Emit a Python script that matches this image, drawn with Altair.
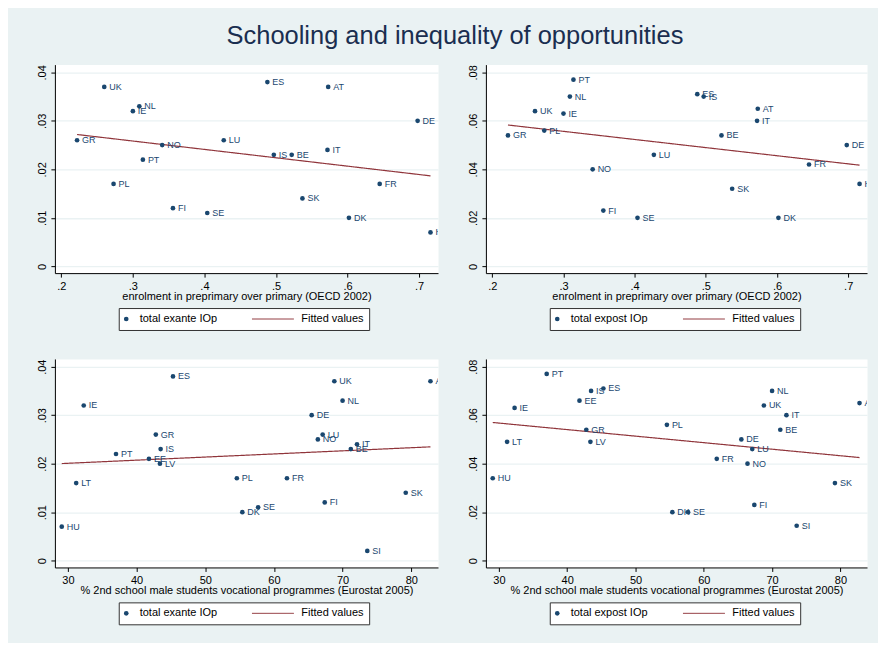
import altair as alt
import pandas as pd

countries = ["AT","BE","DE","DK","EE","ES","FI","FR","GR","HU","IE","IS",
             "IT","LT","LU","LV","NL","NO","PL","PT","SE","SI","SK","UK"]
preprimary = [0.573,0.522,0.698,0.602,None,0.488,0.356,0.645,0.222,0.716,0.300,0.497,
              0.572,None,0.427,None,0.309,0.341,0.273,0.314,0.404,None,0.537,0.260]
vocational = [82.8,71.2,65.5,55.4,41.8,45.3,67.4,61.9,42.8,29.1,32.3,43.5,
              72.1,31.2,67.1,43.4,70.0,66.4,54.6,37.0,57.7,73.6,79.2,68.8]
exante = [0.037,0.023,0.030,0.010,0.021,0.038,0.012,0.017,0.026,0.007,0.032,0.023,
          0.024,0.016,0.026,0.020,0.033,0.025,0.017,0.022,0.011,0.002,0.014,0.037]
expost = [0.065,0.054,0.050,0.020,0.066,0.071,0.023,0.042,0.054,0.034,0.063,0.070,
          0.060,0.049,0.046,0.049,0.070,0.040,0.056,0.077,0.020,0.0144,0.032,0.064]

pre_ticks = [0.2, 0.3, 0.4, 0.5, 0.6, 0.7]
voc_ticks = [30, 40, 50, 60, 70, 80]
exante_ticks = [0, 0.01, 0.02, 0.03, 0.04]
expost_ticks = [0, 0.02, 0.04, 0.06, 0.08]

df = pd.DataFrame({"country": countries, "preprimary": preprimary,
                   "vocational": vocational, "exante": exante, "expost": expost})

NAVY = "#1A476F"
MAROON = "#90353B"
BG = "#EAF2F3"
FONT = "Liberation Sans"
FIT = "Fitted values"


def lead0(decimals):
    return (f"datum.value == 0 ? '0' : (datum.value < 1 ? "
            f"substring(format(datum.value, '.{decimals}f'), 1) : format(datum.value, 'd'))")


def panel(xfield, yfield, series, xdom, ydom, xticks, yticks, xtitle, xdec, w):
    base = alt.Chart(df).transform_filter(f"isValid(datum.{xfield})")
    x = alt.X(f"{xfield}:Q",
              scale=alt.Scale(domain=xdom, nice=False, zero=False),
              axis=alt.Axis(values=xticks, title=xtitle, labelExpr=lead0(xdec), grid=False))
    y = alt.Y(f"{yfield}:Q",
              scale=alt.Scale(domain=ydom, nice=False, zero=False),
              axis=alt.Axis(values=yticks, title=None, labelExpr=lead0(2), grid=True,
                            labelAngle=270, labelAlign="center", labelBaseline="alphabetic",
                            labelPadding=5))
    legend_box = alt.Legend(
        title=None, orient="none", legendX=64, legendY=244, direction="horizontal",
        columns=2, symbolType="circle", symbolSize=22, symbolStrokeWidth=0,
        symbolOffset=-3, clipHeight=12, labelOffset=8, columnPadding=68, padding=5,
        fillColor="white", strokeColor="#333333", zindex=0,
        labelFont=FONT, labelFontSize=11, labelColor="black",
    )
    legend_line = alt.Legend(
        title=None, orient="none", legendX=197, legendY=249, direction="horizontal",
        symbolType="stroke", symbolSize=1764, symbolStrokeWidth=1, symbolStrokeColor=MAROON,
        clipHeight=12, padding=0, labelExpr="''", labelFontSize=11, zindex=2,
    )
    pts = base.transform_calculate(series=f"'{series}'").mark_circle(
        size=22, opacity=1, clip=True).encode(
        x=x, y=y,
        color=alt.Color("series:N",
                        scale=alt.Scale(domain=[series, FIT], range=[NAVY, "transparent"]),
                        legend=legend_box))
    labels = base.mark_text(align="left", baseline="middle", dx=5, fontSize=9,
                            font=FONT, color=NAVY, clip=True).encode(
        x=x, y=y, text="country:N")
    fit = base.transform_regression(xfield, yfield).transform_calculate(
        fitlabel=f"'{FIT}'").mark_line(
        color=MAROON, strokeWidth=1.2, clip=True).encode(
        x=x, y=y,
        strokeDash=alt.StrokeDash("fitlabel:N",
                                  scale=alt.Scale(domain=[FIT], range=[[1, 0]]),
                                  legend=legend_line))
    return alt.layer(fit, pts, labels).properties(width=w, height=209)


pre_dom = [0.191, 0.7265]
voc_dom = [28.1, 83.9]
p1 = panel("preprimary", "exante", "total exante IOp", pre_dom, [-0.0014, 0.0416],
           pre_ticks, exante_ticks, "enrolment in preprimary over primary (OECD 2002)", 1, 384)
p2 = panel("preprimary", "expost", "total expost IOp", pre_dom, [-0.0028, 0.0832],
           pre_ticks, expost_ticks, "enrolment in preprimary over primary (OECD 2002)", 1, 382)
p3 = panel("vocational", "exante", "total exante IOp", voc_dom, [-0.0014, 0.0416],
           voc_ticks, exante_ticks, "% 2nd school male students vocational programmes (Eurostat 2005)", 0, 384)
p4 = panel("vocational", "expost", "total expost IOp", voc_dom, [-0.0028, 0.0832],
           voc_ticks, expost_ticks, "% 2nd school male students vocational programmes (Eurostat 2005)", 0, 382)

chart = alt.concat(p1, p2, p3, p4, columns=2, spacing={"row": 86, "column": 48},
                   bounds="flush").resolve_scale(
    color="independent", strokeDash="independent"
).properties(
    title=alt.TitleParams("Schooling and inequality of opportunities", fontSize=25.5,
                          font=FONT, fontWeight="normal", color="#1A2E50",
                          anchor="middle", frame="bounds", dx=3, offset=14.5),
    background=BG,
    padding={"left": 28, "top": 15, "right": 10, "bottom": 17},
).configure_view(
    fill="white", stroke="transparent"
).configure_axis(
    domainColor="black", domainWidth=1, tickColor="black", tickSize=4, tickWidth=1,
    labelFont=FONT, labelFontSize=11, labelColor="black", labelPadding=3,
    titleFont=FONT, titleFontSize=11, titleColor="black", titleFontWeight="normal",
    titlePadding=-1, gridColor=BG, gridWidth=1.3
)

chart.save("out.html", embed_options={"renderer": "svg", "actions": False})
